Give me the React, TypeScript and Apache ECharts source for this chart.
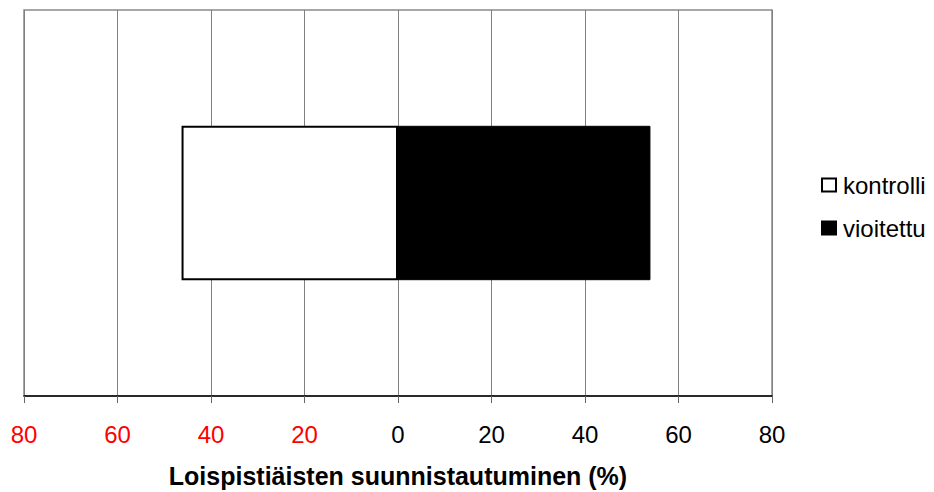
import React, { useEffect, useRef } from "react";
import * as echarts from "echarts";

const categories = [""];
const kontrolli = [-46.3];
const vioitettu = [54];
const seriesNames = ["kontrolli", "vioitettu"];
const xTicks = { min: -80, max: 80, interval: 20 };
const axisTitle = "Loispistiäisten suunnistautuminen (%)";

export default function App() {
  const ref = useRef<HTMLDivElement>(null);
  useEffect(() => {
    if (!ref.current) return;
    const chart = echarts.init(ref.current, undefined, { renderer: "svg" });
    const font = "Liberation Sans, Arial, sans-serif";
    chart.setOption({
      animation: false,
      backgroundColor: "#ffffff",
      textStyle: { fontFamily: font },
      grid: {
        left: 24,
        right: 162,
        top: 10,
        bottom: 96,
        show: true,
        borderColor: "#8a8a8a",
        borderWidth: 1.5,
        backgroundColor: "transparent",
        outerBoundsMode: "none",
        containLabel: false,
      },
      legend: {
        orient: "vertical",
        left: 816,
        top: 168,
        itemWidth: 14,
        itemHeight: 13,
        itemGap: 19,
        icon: "rect",
        textStyle: { fontSize: 24, color: "#000", fontFamily: font, padding: [0, 0, 0, 2] },
        data: seriesNames,
      },
      xAxis: {
        type: "value",
        min: xTicks.min,
        max: xTicks.max,
        interval: xTicks.interval,
        axisLine: { show: true, lineStyle: { color: "#000", width: 1.5 } },
        axisTick: { show: true, length: 7, lineStyle: { color: "#666", width: 1 } },
        splitLine: { show: true, lineStyle: { color: "#808080", width: 1 } },
        axisLabel: {
          margin: 26,
          fontSize: 24,
          color: "#000",
          fontFamily: font,
          formatter: (v: number) => (v < 0 ? `{r|${Math.abs(v)}}` : `${v}`),
          rich: { r: { color: "#ff0000", fontSize: 24, fontFamily: font } },
        },
        name: axisTitle,
        nameLocation: "middle",
        nameGap: 67,
        nameTextStyle: {
          fontSize: 25,
          fontWeight: "bold",
          color: "#000",
          fontFamily: font,
        },
      },
      yAxis: {
        type: "category",
        data: categories,
        axisLine: { show: false },
        axisTick: { show: false },
        axisLabel: { show: false },
        splitLine: { show: false },
      },
      series: [
        {
          name: seriesNames[0],
          type: "bar",
          stack: "total",
          data: kontrolli,
          barWidth: "40%",
          itemStyle: { color: "#ffffff", borderColor: "#000", borderWidth: 2 },
        },
        {
          name: seriesNames[1],
          type: "bar",
          stack: "total",
          data: vioitettu,
          barWidth: "40%",
          itemStyle: { color: "#000000", borderColor: "#000", borderWidth: 1 },
        },
      ],
    });
    return () => chart.dispose();
  }, []);
  return (
    <div
      ref={ref}
      style={{ position: "fixed", left: 0, top: 0, width: 934, height: 492 }}
    />
  );
}
